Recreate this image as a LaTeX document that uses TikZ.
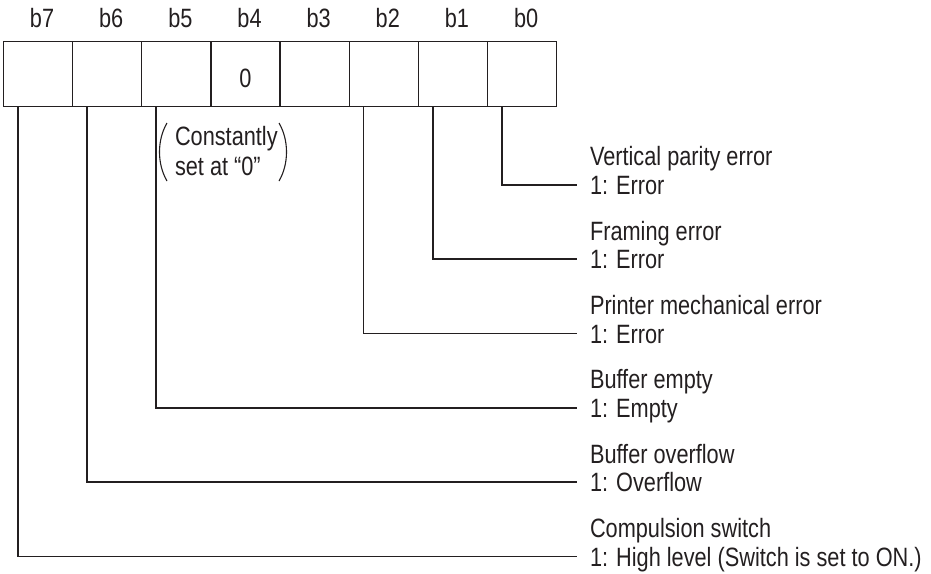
\documentclass[tikz,border=0pt]{standalone}
\usepackage{fontspec}
\setmainfont{Liberation Sans}[FakeStretch=0.82]
\definecolor{ink}{HTML}{231F20}
\begin{document}
\begin{tikzpicture}[x=1pt,y=-1pt,
  every node/.style={text=ink, font=\fontsize{26.5}{28.7}\selectfont, inner sep=0pt, outer sep=0pt},
  cell/.style={minimum width=69.15pt, minimum height=64.8pt, anchor=north west},
  boxline/.style={draw=ink, line width=1.3pt},
  bitlabel/.style={anchor=base},
  desc/.style={anchor=base west},
  conn/.style={draw=ink, line width=1.7pt},
  paren/.style={draw=ink, line width=1.1pt}]
\useasboundingbox (0,0) rectangle (931,573);
% cells
\foreach \i/\n in {0/7,1/6,2/5,3/4,4/3,5/2,6/1,7/0} {
  \node[cell] (c\n) at ({3.5+69.15*\i},41.7) {};
  \node[bitlabel] (l\n) at ([xshift=4pt]c\n.center |- 0,27.7) {b\n};
}
\draw[boxline] (c7.north west) rectangle (c0.south east);
\foreach \n in {6,5,4,3,2,1,0} {
  \draw[boxline] (c\n.north west) -- (c\n.south west);
}
\node (zero) at ([yshift=-4pt]c4.center) {0};
% note
\node[desc] (n1) at (175,145) {Constantly};
\node[desc] (n2) at (175,175.5) {set at “0”};
\draw[paren] (167,123) .. controls (157,140) and (157,164) .. (167,181);
\draw[paren] (279,123) .. controls (289,140) and (289,164) .. (279,181);
% descriptions and connectors
\foreach \n/\y/\ta/\tb in {0/185/Vertical parity error/1: Error,
                           1/259.3/Framing error/1: Error,
                           2/333.6/Printer mechanical error/1: Error,
                           5/407.9/Buffer empty/1: Empty,
                           6/482.2/Buffer overflow/1: Overflow,
                           7/556.5/Compulsion switch/1: High level (Switch is set to ON.)} {
  \node[desc] (da\n) at (590,\y-19.2) {\ta};
  \node[desc] (db\n) at (590,\y+9.5) {\tb};
  \coordinate (e\n) at (576.5,\y);
  \draw[conn] ([xshift=14.3pt]c\n.south west) |- (e\n);
}
\end{tikzpicture}
\end{document}
